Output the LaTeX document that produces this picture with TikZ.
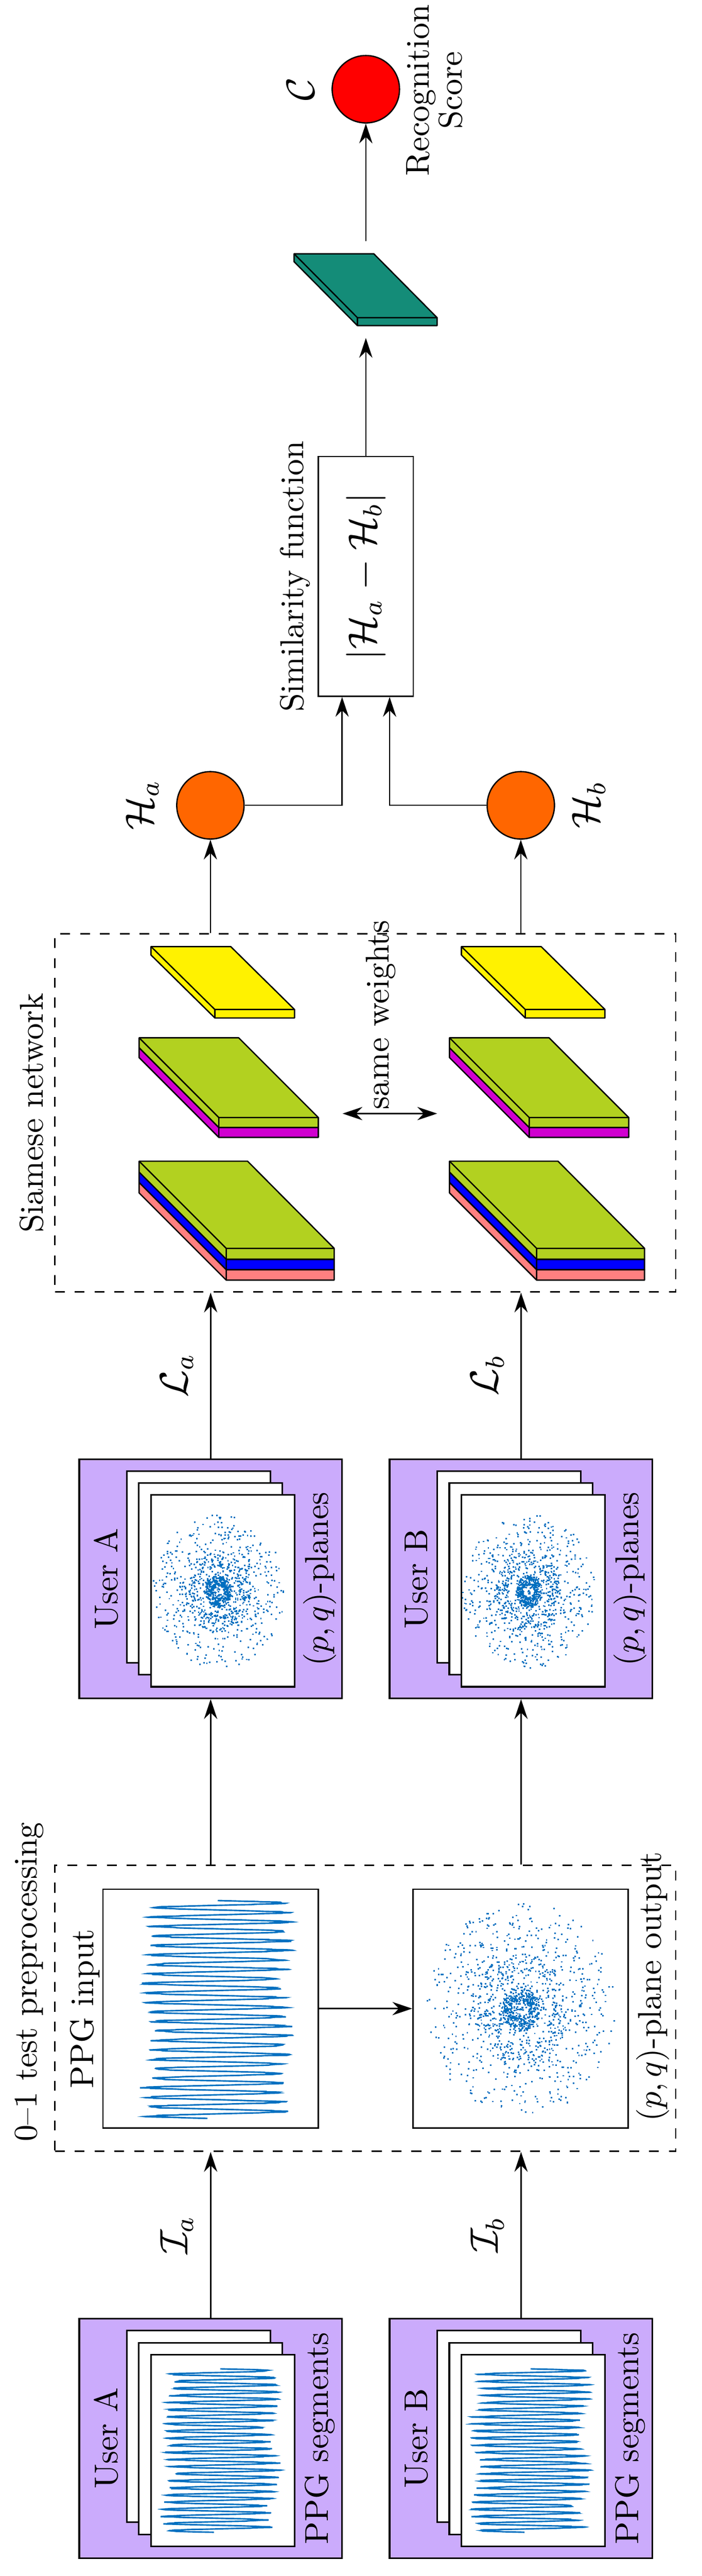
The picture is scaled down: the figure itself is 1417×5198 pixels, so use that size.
\documentclass[tikz,border=0pt]{standalone}
\usetikzlibrary{arrows.meta,positioning}
\definecolor{lav}{HTML}{CBABFC}
\definecolor{sig}{HTML}{0070C0}
\definecolor{lgreen}{HTML}{B2D120}
\definecolor{lpink}{HTML}{FF8080}
\definecolor{lmag}{HTML}{D000D0}
\definecolor{teal2}{HTML}{148C78}
\definecolor{orng}{HTML}{FF6600}
\tikzset{
  px/.style={x=0.15pt,y=-0.15pt},
  purple/.style={draw,line width=0.5pt,fill=lav,inner sep=0pt},
  page/.style={draw,line width=0.5pt,fill=white,inner sep=0pt,minimum width=290*0.15pt,minimum height=387*0.15pt},
  plotbox/.style={draw,line width=0.4pt,fill=white,inner sep=0pt,minimum width=435*0.15pt,minimum height=482*0.15pt},
  dbox/.style={draw,dashed,line width=0.4pt,inner sep=0pt},
  arr/.style={-{Stealth[length=6pt,width=4pt]},line width=0.4pt},
  rt/.style={rotate=90},
  slab/.style={draw,line width=0.4pt,line join=round},
  circ/.style={draw,line width=0.4pt,circle,minimum size=136*0.15pt,inner sep=0pt},
  wave/.style={sig,line width=0.45pt},
}
\newcommand{\mywave}[4]{% cx, top, height, amp
  \draw[wave] plot[domain=0:1,samples=700,smooth] ({#1+#4*sin(360*23*\x)*(0.75+0.25*rnd)+10*sin(360*2*\x)}, {#2+\x*#3});}
\newcommand{\myscatter}[4]{% cx, cy, R, n
  \foreach \i in {1,...,#4}{%
    \pgfmathsetmacro{\rr}{#3*pow(rnd,0.8)}\pgfmathsetmacro{\aa}{360*rnd}%
    \fill[sig] ({#1+\rr*cos(\aa)},{#2+1.15*\rr*sin(\aa)}) rectangle ++(3,3);}
  \foreach \i in {1,...,350}{%
    \pgfmathsetmacro{\rr}{#3*(0.08+0.12*rnd)}\pgfmathsetmacro{\aa}{360*rnd}%
    \fill[sig] ({#1+\rr*cos(\aa)},{#2+1.2*\rr*sin(\aa)}) rectangle ++(3,3);}
  \foreach \i in {1,...,250}{%
    \pgfmathsetmacro{\rr}{#3*(0.3+0.2*rnd)}\pgfmathsetmacro{\aa}{360*rnd}%
    \fill[sig] ({#1+\rr*cos(\aa)},{#2+1.2*\rr*sin(\aa)}) rectangle ++(3,3);}
}
\begin{document}
\begin{tikzpicture}[px]
\pgfmathsetseed{7}
\useasboundingbox (0,0) rectangle (1417,5198);
% ---------------- PPG segments
\foreach \s/\n/\u in {0/A/A,627/B/B}{
  \node[purple,minimum width=531*0.15pt,minimum height=483*0.15pt] (seg\n) at (425.5+\s,4920.5) {};
  \node[page] (sp1\n) at (401.5+\s,4896) {};
  \node[page] (sp2\n) at (425.5+\s,4921) {};
  \node[page] (sp3\n) at (450+\s,4945) {};
  \node[rt] (su\n) at (214+\s,4920) {User \u};
  \node[rt] (sl\n) at (646+\s,4920) {PPG segments};
}
\mywave{445}{4780}{330}{115}
\mywave{1072}{4780}{330}{115}
% ---------------- preprocessing
\node[dbox,minimum width=1254*0.15pt,minimum height=577*0.15pt] (pre) at (738,4052.5) {};
\node[rt,anchor=south west,inner sep=3pt] (pret) at (pre.south west) {0--1 test preprocessing};
\node[plotbox] (ppgin) at (425.5,4053) {};
\node[plotbox] (pqout) at (1051.5,4053) {};
\node[rt] (ppgint) at (172,4053) {PPG input};
\node[rt,anchor=north west,inner sep=2pt] (pqoutt) at (pqout.south east) {$(p,q)$-plane output};
\mywave{440}{3835}{440}{150}
\myscatter{1051}{4053}{190}{900}
\draw[arr] (ppgin.east) -- (pqout.west);
\draw[arr] (segA.north) -- node[rt,anchor=south,inner sep=5pt] {\large$\mathcal{I}_a$} (segA.north |- pre.south);
\draw[arr] (segB.north) -- node[rt,anchor=south,inner sep=5pt] {\large$\mathcal{I}_b$} (segB.north |- pre.south);
% ---------------- (p,q)-planes
\foreach \s/\n/\u in {0/A/A,627/B/B}{
  \node[purple,minimum width=531*0.15pt,minimum height=482*0.15pt] (pq\n) at (425.5+\s,3186) {};
  \node[page] (pp1\n) at (401.5+\s,3162) {};
  \node[page] (pp2\n) at (425.5+\s,3186) {};
  \node[page] (pp3\n) at (450+\s,3210) {};
  \node[rt] (pu\n) at (214+\s,3186) {User \u};
  \node[rt] (pl\n) at (646+\s,3186) {$(p,q)$-planes};
}
\myscatter{440}{3210}{135}{700}
\myscatter{1067}{3210}{135}{700}
\draw[arr] (pre.north -| pqA.south) -- (pqA.south);
\draw[arr] (pre.north -| pqB.south) -- (pqB.south);
% ---------------- siamese
\node[dbox,minimum width=1254*0.15pt,minimum height=723*0.15pt] (sia) at (738,2245.5) {};
\node[rt,anchor=south,inner sep=3pt] (siat) at (sia.west) {Siamese network};
\draw[arr] (pqA.north) -- node[rt,anchor=south,inner sep=5pt] {\large$\mathcal{L}_a$} (pqA.north |- sia.south);
\draw[arr] (pqB.north) -- node[rt,anchor=south,inner sep=5pt] {\large$\mathcal{L}_b$} (pqB.north |- sia.south);
\foreach \s in {0,627}{
 \begin{scope}[xshift=\s*0.15pt]
  \draw[slab,fill=lpink] (281,2386)--(457,2562)--(675,2562)--(675,2583)--(457,2583)--(281,2407)--cycle;
  \draw[slab,fill=blue] (281,2365)--(457,2541)--(675,2541)--(675,2562)--(457,2562)--(281,2386)--cycle;
  \draw[slab,fill=lgreen] (281,2343)--(500,2343)--(675,2519)--(675,2541)--(457,2541)--(281,2365)--cycle;
  \draw[slab] (457,2519)--(281,2343) (457,2519)--(675,2519) (457,2519)--(457,2583) (457,2541)--(675,2541) (457,2562)--(675,2562);
  \draw[slab,fill=lmag] (281,2114)--(442,2275)--(643,2275)--(643,2295)--(442,2295)--(281,2134)--cycle;
  \draw[slab,fill=lgreen] (281,2094)--(482,2094)--(643,2255)--(643,2275)--(442,2275)--(281,2114)--cycle;
  \draw[slab] (442,2255)--(281,2094) (442,2255)--(643,2255) (442,2255)--(442,2295) (442,2275)--(643,2275);
  \draw[slab,fill=yellow] (305,1910)--(466,1910)--(595,2037)--(595,2054)--(434,2054)--(305,1927)--cycle;
  \draw[slab] (434,2037)--(305,1910) (434,2037)--(595,2037) (434,2037)--(434,2054);
 \end{scope}
}
\coordinate (swl) at (692,2247);
\coordinate (swr) at (883,2247);
\draw[{Stealth[length=6pt,width=4pt]}-{Stealth[length=6pt,width=4pt]},line width=0.4pt] (swl) -- (swr);
\node[rt,anchor=south west,inner sep=0pt] (swt) at (800,2240) {same weights};
% ---------------- H nodes
\node[circ,fill=orng] (ha) at (425,1625) {};
\node[circ,fill=orng] (hb) at (1052,1625) {};
\node[rt,anchor=south,inner sep=5pt] (hat) at (ha.west) {\large$\mathcal{H}_a$};
\node[rt,anchor=north,inner sep=5pt] (hbt) at (hb.east) {\large$\mathcal{H}_b$};
\draw[arr] (sia.north -| ha.south) -- (ha.south);
\draw[arr] (sia.north -| hb.south) -- (hb.south);
\node[draw,line width=0.4pt,minimum width=192*0.15pt,minimum height=484*0.15pt,inner sep=0pt] (sim) at (739,1163) {};
\node[rt] (simf) at (739,1163) {\large $|\mathcal{H}_a-\mathcal{H}_b|$};
\node[rt,anchor=south,inner sep=2pt] (simt) at (sim.west) {Similarity function};
\coordinate (ja) at (691,1625);
\coordinate (jb) at (787,1625);
\draw[arr] (ha.east) -- (ja) -- (ja |- sim.south);
\draw[arr] (hb.west) -- (jb) -- (jb |- sim.south);
% ---------------- output
\draw[slab,fill=teal2] (594,512)--(755,512)--(883,641)--(883,657)--(722,657)--(594,528)--cycle;
\draw[slab] (722,641)--(594,512) (722,641)--(883,641) (722,641)--(722,657);
\coordinate (fcin) at (739,682);
\coordinate (fcout) at (739,487);
\draw[arr] (sim.north) -- (fcin);
\node[circ,fill=red] (c) at (739,180) {};
\draw[arr] (fcout) -- (c.south);
\node[rt,anchor=south,inner sep=5pt] (ct) at (c.west) {\large$\mathcal{C}$};
\node[rt,align=center,inner sep=0pt] (rs) at (878,182) {Recognition\\[-2pt]Score};
\end{tikzpicture}
\end{document}
